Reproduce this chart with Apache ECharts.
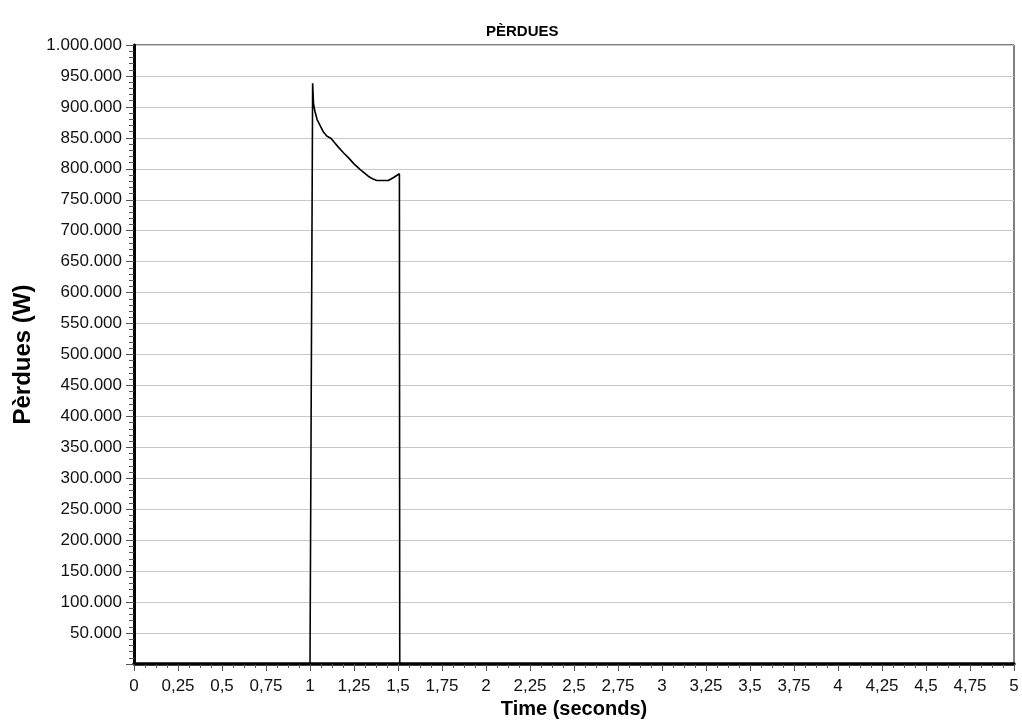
<!DOCTYPE html>
<html>
<head>
<meta charset="utf-8">
<script src="https://cdn.jsdelivr.net/npm/echarts@6/dist/echarts.min.js"></script>
<style>
  html, body { margin: 0; padding: 0; background: #fff; }
  #chart { width: 1022px; height: 722px; }
</style>
</head>
<body>
<div id="chart"></div>
<script>
// Losses (W) over time (s): a single pulse between 1 s and ~1.5 s
const timeSeconds = [0, 1.0, 1.015, 1.02, 1.028, 1.04, 1.057, 1.075, 1.095, 1.12, 1.14, 1.161,
  1.19, 1.218, 1.25, 1.284, 1.31, 1.331, 1.355, 1.38, 1.445, 1.475, 1.508, 1.51, 5];
const lossesW = [0, 0, 938000, 905000, 893000, 880000, 870000, 860000, 853000, 849000, 842000, 835000,
  826000, 818000, 808000, 799000, 793000, 788000, 784000, 781000, 781000, 786000, 792000, 0, 0];

const titleText = 'PÈRDUES';
const xName = 'Time (seconds)';
const yName = 'Pèrdues (W)';

const points = timeSeconds.map((t, i) => [t, lossesW[i]]);

const fmtX = v => String(+v.toFixed(2)).replace('.', ',');
const fmtY = v => v === 0 ? '' : Math.round(v).toString().replace(/\B(?=(\d{3})+(?!\d))/g, '.');

const font = 'Liberation Sans, Arial, sans-serif';
const chart = echarts.init(document.getElementById('chart'));
chart.setOption({
  animation: false,
  textStyle: { fontFamily: font },
  title: {
    text: titleText, left: 481, top: 19,
    textStyle: { fontSize: 15, fontWeight: 'bold', color: '#000', fontFamily: font }
  },
  grid: {
    left: 134, right: 8, top: 45, bottom: 58,
    containLabel: false, outerBoundsMode: 'none',
    show: true, borderColor: '#000', borderWidth: 1, backgroundColor: '#fff'
  },
  xAxis: {
    type: 'value', min: 0, max: 5, interval: 0.25,
    name: xName, nameLocation: 'middle', nameGap: 34,
    nameTextStyle: { fontSize: 20, fontWeight: 'bold', color: '#000', fontFamily: font },
    axisLine: { onZero: false, lineStyle: { color: '#000', width: 3.5 } },
    axisTick: { show: true, length: 7, lineStyle: { color: '#555', width: 1 } },
    minorTick: { show: true, splitNumber: 4, length: 4, lineStyle: { color: '#555', width: 1 } },
    axisLabel: { formatter: fmtX, fontSize: 17, color: '#111', margin: 14, fontFamily: font },
    splitLine: { show: false }
  },
  yAxis: {
    type: 'value', min: 0, max: 1000000, interval: 50000,
    name: yName, nameLocation: 'middle', nameGap: 99, nameRotate: 90,
    nameTextStyle: { fontSize: 24, fontWeight: 'bold', color: '#000', fontFamily: font },
    axisLine: { show: true, lineStyle: { color: '#000', width: 3 } },
    axisTick: { show: true, length: 8, lineStyle: { color: '#555', width: 1 } },
    minorTick: { show: true, splitNumber: 5, length: 5, lineStyle: { color: '#555', width: 1 } },
    axisLabel: { formatter: fmtY, fontSize: 17, color: '#111', margin: 12, fontFamily: font },
    splitLine: { show: true, lineStyle: { color: '#c8c8c8', width: 1 } }
  },
  series: [{
    type: 'line', data: points, showSymbol: false, symbol: 'none',
    lineStyle: { color: '#000', width: 1.6 }
  }]
});
</script>
</body>
</html>
